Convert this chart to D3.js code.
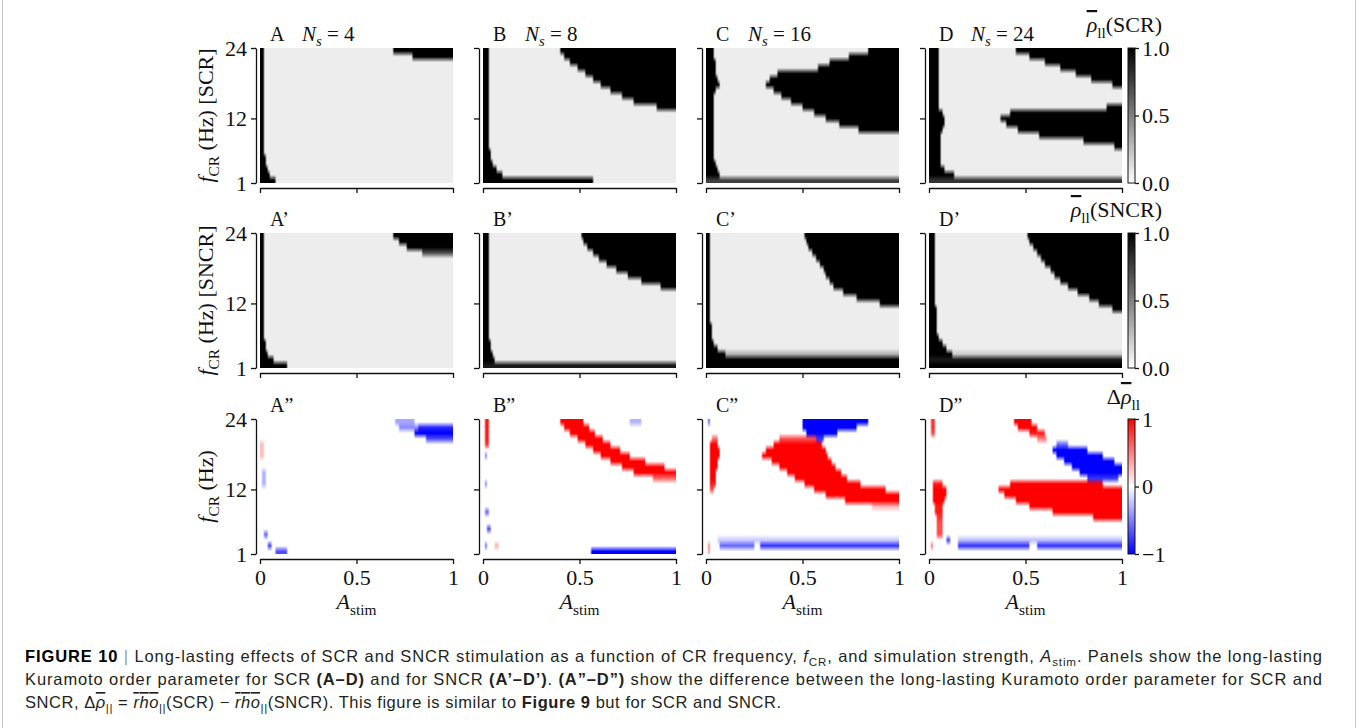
<!DOCTYPE html>
<html>
<head>
<meta charset="utf-8">
<script src="https://cdn.jsdelivr.net/npm/d3@7"></script>
<style>
  body { margin: 0; background: #fff; }
  svg { display: block; }
</style>
</head>
<body>
<svg id="fig" width="1358" height="728"></svg>
<script>
'use strict';

// ---- data -------------------------------------------------------------
// axis ticks
var aTicks = [0, 0.5, 1];
var fTicks = [1, 12, 24];
var colLetters = ['A', 'B', 'C', 'D'];
var nsValues = [4, 8, 16, 24];
var rowMarks = ['', '\u2019', '\u201D'];

// each entry: [f from, f to, [[A start, A end, value], ...]]  (value defaults to 1)
// everything not listed is the background level
var scrA = [
  [24, 24, [[0, .02], [.69, 1]]],
  [23, 23, [[0, .02], [.79, 1]]],
  [22, 6, [[0, .02]]],
  [5, 5, [[0, .025]]],
  [4, 4, [[0, .03]]],
  [3, 3, [[0, .035]]],
  [2, 2, [[0, .05]]],
  [1, 1, [[0, .08]]]
];
var scrB = [
  [24, 24, [[0, .025], [.40, 1]]],
  [23, 23, [[0, .025], [.42, 1]]],
  [22, 22, [[0, .025], [.45, 1]]],
  [21, 21, [[0, .025], [.49, 1]]],
  [20, 20, [[0, .025], [.53, 1]]],
  [19, 19, [[0, .025], [.57, 1]]],
  [18, 18, [[0, .025], [.61, 1]]],
  [17, 17, [[0, .025], [.66, 1]]],
  [16, 16, [[0, .025], [.72, 1]]],
  [15, 15, [[0, .025], [.78, 1]]],
  [14, 14, [[0, .025], [.90, 1]]],
  [13, 8, [[0, .025]]],
  [7, 7, [[0, .03]]],
  [6, 6, [[0, .035]]],
  [5, 5, [[0, .04]]],
  [4, 4, [[0, .05]]],
  [3, 3, [[0, .07]]],
  [2, 2, [[0, .10]]],
  [1, 1, [[0, .57]]]
];
var scrC = [
  [24, 24, [[0, .035], [.84, 1]]],
  [23, 23, [[0, .04], [.74, 1]]],
  [22, 22, [[0, .045], [.64, 1]]],
  [21, 21, [[0, .05], [.58, 1]]],
  [20, 20, [[0, .05], [.37, 1]]],
  [19, 19, [[0, .06], [.33, 1]]],
  [18, 18, [[0, .065], [.31, 1]]],
  [17, 17, [[0, .05], [.35, 1]]],
  [16, 16, [[0, .04], [.39, 1]]],
  [15, 15, [[0, .035], [.44, 1]]],
  [14, 14, [[0, .035], [.50, 1]]],
  [13, 13, [[0, .035], [.56, 1]]],
  [12, 12, [[0, .035], [.62, 1]]],
  [11, 11, [[0, .035], [.69, 1]]],
  [10, 10, [[0, .035], [.79, 1]]],
  [9, 5, [[0, .035]]],
  [4, 4, [[0, .045]]],
  [3, 3, [[0, .055]]],
  [2, 2, [[0, .065]]],
  [1, 1, [[0, 1, .75]]]
];
var scrD = [
  [24, 24, [[0, .045], [.45, 1]]],
  [23, 23, [[0, .045], [.52, 1]]],
  [22, 22, [[0, .045], [.60, 1]]],
  [21, 21, [[0, .045], [.68, 1]]],
  [20, 20, [[0, .045], [.76, 1]]],
  [19, 19, [[0, .045], [.84, 1]]],
  [18, 18, [[0, .045], [.95, 1]]],
  [17, 15, [[0, .045]]],
  [14, 14, [[0, .05], [.92, 1]]],
  [13, 13, [[0, .07], [.42, 1]]],
  [12, 12, [[0, .08], [.37, 1]]],
  [11, 11, [[0, .075], [.40, 1]]],
  [10, 10, [[0, .07], [.46, 1]]],
  [9, 9, [[0, .06], [.57, 1]]],
  [8, 8, [[0, .06], [.80, 1]]],
  [7, 7, [[0, .06], [.96, 1]]],
  [6, 4, [[0, .06]]],
  [3, 3, [[0, .08]]],
  [2, 2, [[0, .13]]],
  [1, 1, [[0, 1, .8]]]
];

var sncrA = [
  [24, 24, [[0, .018], [.69, 1]]],
  [23, 23, [[0, .018], [.72, 1]]],
  [22, 22, [[0, .018], [.76, 1]]],
  [21, 21, [[0, .018], [.84, 1, .7]]],
  [20, 6, [[0, .018]]],
  [5, 5, [[0, .025]]],
  [4, 4, [[0, .03]]],
  [3, 3, [[0, .04]]],
  [2, 2, [[0, .07]]],
  [1, 1, [[0, .14]]]
];
var sncrB = [
  [24, 24, [[0, .025], [.51, 1]]],
  [23, 23, [[0, .025], [.52, 1]]],
  [22, 22, [[0, .025], [.54, 1]]],
  [21, 21, [[0, .025], [.57, 1]]],
  [20, 20, [[0, .025], [.60, 1]]],
  [19, 19, [[0, .025], [.64, 1]]],
  [18, 18, [[0, .025], [.69, 1]]],
  [17, 17, [[0, .025], [.75, 1]]],
  [16, 16, [[0, .025], [.82, 1]]],
  [15, 15, [[0, .025], [.92, 1]]],
  [14, 9, [[0, .025]]],
  [8, 6, [[0, .03]]],
  [5, 5, [[0, .035]]],
  [4, 4, [[0, .04]]],
  [3, 3, [[0, .045]]],
  [2, 2, [[0, .06]]],
  [1, 1, [[0, 1, .9]]]
];
var sncrC = [
  [24, 24, [[0, .02], [.51, 1]]],
  [23, 23, [[0, .02], [.52, 1]]],
  [22, 22, [[0, .02], [.53, 1]]],
  [21, 21, [[0, .02], [.55, 1]]],
  [20, 20, [[0, .02], [.57, 1]]],
  [19, 19, [[0, .02], [.59, 1]]],
  [18, 18, [[0, .02], [.61, 1]]],
  [17, 17, [[0, .02], [.62, 1]]],
  [16, 16, [[0, .02], [.64, 1]]],
  [15, 15, [[0, .02], [.66, 1]]],
  [14, 14, [[0, .02], [.71, 1]]],
  [13, 13, [[0, .02], [.78, 1]]],
  [12, 12, [[0, .02], [.90, 1]]],
  [11, 9, [[0, .02]]],
  [8, 6, [[0, .03]]],
  [5, 5, [[0, .04]]],
  [4, 4, [[0, .06]]],
  [3, 3, [[0, .10], [.10, 1, .3]]],
  [2, 1, [[0, 1]]]
];
var sncrD = [
  [24, 24, [[0, .03], [.515, 1]]],
  [23, 23, [[0, .03], [.52, 1]]],
  [22, 22, [[0, .03], [.54, 1]]],
  [21, 21, [[0, .03], [.56, 1]]],
  [20, 20, [[0, .03], [.58, 1]]],
  [19, 19, [[0, .03], [.60, 1]]],
  [18, 18, [[0, .03], [.63, 1]]],
  [17, 17, [[0, .03], [.65, 1]]],
  [16, 16, [[0, .03], [.68, 1]]],
  [15, 15, [[0, .03], [.72, 1]]],
  [14, 14, [[0, .03], [.77, 1]]],
  [13, 13, [[0, .03], [.83, 1]]],
  [12, 12, [[0, .03], [.88, 1]]],
  [11, 11, [[0, .04], [.95, 1]]],
  [10, 7, [[0, .04]]],
  [6, 6, [[0, .05]]],
  [5, 5, [[0, .07]]],
  [4, 4, [[0, .09]]],
  [3, 3, [[0, .12], [.12, 1, .2]]],
  [2, 2, [[0, 1, .9]]],
  [1, 1, [[0, 1]]]
];

// difference SCR - SNCR (red > 0, blue < 0)
var deltaA = [
  [24, 24, [[.70, .80, -.35]]],
  [23, 23, [[.72, .82, -.45], [.82, 1, -.85]]],
  [22, 22, [[.80, 1, -1]]],
  [21, 21, [[.86, 1, -.7]]],
  [20, 18, [[.005, .02, .25]]],
  [15, 13, [[.01, .025, -.3]]],
  [4, 4, [[.02, .035, -.6]]],
  [2, 2, [[.04, .055, -.7]]],
  [1, 1, [[.08, .14, -.7]]]
];
var deltaB = [
  [24, 24, [[.01, .03, .9], [.40, .52, 1], [.76, .82, -.3]]],
  [23, 23, [[.01, .03, .9], [.42, .55, 1]]],
  [22, 22, [[.01, .03, .9], [.45, .58, 1]]],
  [21, 21, [[.01, .03, .9], [.49, .62, 1]]],
  [20, 20, [[.01, .03, .8], [.53, .66, 1]]],
  [19, 19, [[.57, .71, 1]]],
  [18, 18, [[.01, .02, -.5], [.61, .76, 1]]],
  [17, 17, [[.66, .84, 1]]],
  [16, 16, [[.72, .94, 1]]],
  [15, 15, [[.78, 1, 1]]],
  [14, 14, [[.88, 1, .6]]],
  [13, 13, [[.01, .02, -.5]]],
  [8, 8, [[.01, .03, -.6]]],
  [5, 5, [[.02, .04, -.7]]],
  [2, 2, [[.01, .02, -.6], [.06, .08, .3]]],
  [1, 1, [[.56, 1, -1]]]
];
var deltaC = [
  [24, 24, [[.01, .02, -.6], [.50, .84, -1]]],
  [23, 23, [[.50, .78, -1]]],
  [22, 22, [[.52, .68, -1]]],
  [21, 21, [[.03, .06, .6], [.38, .57, .7], [.57, .61, -.8]]],
  [20, 20, [[.02, .06, 1], [.35, .60, 1]]],
  [19, 19, [[.02, .065, 1], [.31, .62, 1]]],
  [18, 18, [[.02, .065, 1], [.29, .63, 1]]],
  [17, 17, [[.02, .06, 1], [.34, .65, 1]]],
  [16, 16, [[.02, .055, 1], [.38, .67, 1]]],
  [15, 15, [[.02, .05, 1], [.42, .70, 1]]],
  [14, 14, [[.02, .05, 1], [.46, .73, 1]]],
  [13, 13, [[.02, .045, .9], [.51, .80, 1]]],
  [12, 12, [[.02, .04, .7], [.56, .93, 1]]],
  [11, 11, [[.62, 1, 1]]],
  [10, 10, [[.72, 1, 1]]],
  [9, 9, [[.86, 1, .3]]],
  [3, 3, [[.06, 1, -.2]]],
  [2, 2, [[.01, .02, .5], [.07, .25, -.6], [.28, 1, -.8]]],
  [1, 1, [[.01, .02, .4]]]
];
var deltaD = [
  [24, 24, [[.01, .025, .8], [.44, .53, 1]]],
  [23, 23, [[.01, .025, .8], [.46, .56, 1]]],
  [22, 22, [[.01, .025, .7], [.52, .60, .9]]],
  [21, 21, [[.56, .61, .5]]],
  [20, 20, [[.66, .72, -.6]]],
  [19, 19, [[.64, .82, -1]]],
  [18, 18, [[.66, .90, -1]]],
  [17, 17, [[.70, .96, -1]]],
  [16, 16, [[.74, 1, -1]]],
  [15, 15, [[.78, 1, -1]]],
  [14, 14, [[.82, .98, -.8]]],
  [13, 13, [[.02, .07, .9], [.42, .90, 1]]],
  [12, 12, [[.02, .09, 1], [.36, 1, 1]]],
  [11, 11, [[.02, .09, 1], [.39, 1, 1]]],
  [10, 10, [[.02, .08, 1], [.45, 1, 1]]],
  [9, 9, [[.03, .07, .9], [.52, 1, 1]]],
  [8, 8, [[.03, .07, .9], [.64, 1, 1]]],
  [7, 7, [[.04, .07, .8], [.85, 1, 1]]],
  [6, 4, [[.04, .07, .7]]],
  [3, 3, [[.09, .11, -.7], [.15, 1, -.25]]],
  [2, 2, [[.01, .02, .6], [.15, .52, -.8], [.56, 1, -.8]]]
];

var rows = [
  { panels: [scrA, scrB, scrC, scrD], bg: 0.07, cmap: 'gray', tag: 'SCR' },
  { panels: [sncrA, sncrB, sncrC, sncrD], bg: 0.07, cmap: 'gray', tag: 'SNCR' },
  { panels: [deltaA, deltaB, deltaC, deltaD], bg: 0, cmap: 'bwr', tag: null }
];

// ---- layout -----------------------------------------------------------
var panelLeft = [260, 483, 706, 929];
var rowTop = [48, 233, 419];
var W = 193, H = 135;
var nA = 100, nF = 24;
var serif = '"Liberation Serif", "DejaVu Serif", serif';
var sans = '"Liberation Sans", Arial, sans-serif';
var ink = '#111';

var svg = d3.select('#fig');

// thin page edges
svg.append('line').attr('x1', 2.5).attr('x2', 2.5).attr('y1', 0).attr('y2', 728)
  .attr('stroke', '#c8c8c8').attr('stroke-width', 1);
svg.append('line').attr('x1', 1355.5).attr('x2', 1355.5).attr('y1', 0).attr('y2', 728)
  .attr('stroke', '#c8c8c8').attr('stroke-width', 1);

var x = d3.scaleLinear().domain([0, 1]).range([0, W]);
var y = d3.scaleLinear().domain([1, 24]).range([H, 0]);

function colour(cmap, v) {
  if (cmap === 'gray') {
    var g = Math.round(255 * (1 - v));
    return [g, g, g];
  }
  if (v >= 0) return [255, Math.round(255 * (1 - v)), Math.round(255 * (1 - v))];
  return [Math.round(255 * (1 + v)), Math.round(255 * (1 + v)), 255];
}

function cellValue(spec, f, a, bg) {
  for (var k = 0; k < spec.length; k++) {
    var e = spec[k];
    if (f <= e[0] && f >= e[1]) {
      for (var j = 0; j < e[2].length; j++) {
        var iv = e[2][j];
        if (a >= iv[0] && a <= iv[1]) return iv.length > 2 ? iv[2] : 1;
      }
    }
  }
  return bg;
}

// grid -> small canvas -> smoothed (bilinear) canvas at panel size
function heatImage(spec, bg, cmap) {
  var cv = document.createElement('canvas');
  cv.width = nA; cv.height = nF;
  var ctx = cv.getContext('2d');
  var img = ctx.createImageData(nA, nF);
  for (var r = 0; r < nF; r++) {
    var f = 24 - r;
    for (var c = 0; c < nA; c++) {
      var a = (c + 0.5) / nA;
      var rgb = colour(cmap, cellValue(spec, f, a, bg));
      var p = (r * nA + c) * 4;
      img.data[p] = rgb[0]; img.data[p + 1] = rgb[1]; img.data[p + 2] = rgb[2]; img.data[p + 3] = 255;
    }
  }
  ctx.putImageData(img, 0, 0);
  var big = document.createElement('canvas');
  big.width = W * 2; big.height = H * 2;
  var bctx = big.getContext('2d');
  bctx.imageSmoothingEnabled = true;
  bctx.drawImage(cv, 0, 0, big.width, big.height);
  return big.toDataURL();
}

// text with italic / subscript pieces
function rich(sel, parts, size) {
  var shifted = 0;
  parts.forEach(function (p) {
    var t = sel.append('tspan').text(p.t);
    if (p.i) t.attr('font-style', 'italic');
    if (p.b) t.attr('font-weight', 'bold');
    if (p.fill) t.attr('fill', p.fill);
    if (p.over) t.attr('text-decoration', 'overline');
    if (p.sub) {
      t.attr('font-size', size * 0.7);
      if (!shifted) { t.attr('dy', size * 0.25); shifted = 1; }
    } else if (shifted) {
      t.attr('dy', -size * 0.25); shifted = 0;
    }
  });
  return sel;
}

function styleAxis(g, size) {
  g.attr('font-family', serif).attr('font-size', size);
  g.select('.domain').attr('stroke', ink).attr('stroke-width', 1.3);
  g.selectAll('.tick line').attr('stroke', ink).attr('stroke-width', 1.3);
  g.selectAll('.tick text').attr('fill', ink);
}

// ---- panels -----------------------------------------------------------
rows.forEach(function (row, ri) {
  row.panels.forEach(function (spec, ci) {
    var g = svg.append('g').attr('transform', 'translate(' + panelLeft[ci] + ',' + rowTop[ri] + ')');

    g.append('image')
      .attr('href', heatImage(spec, row.bg, row.cmap))
      .attr('x', x(0)).attr('y', y(24))
      .attr('width', x(1) - x(0)).attr('height', y(1) - y(24))
      .attr('preserveAspectRatio', 'none');

    var yAxis = g.append('g').attr('transform', 'translate(-4,0)')
      .call(d3.axisLeft(y).tickValues(fTicks).tickSize(5).tickSizeOuter(0).tickPadding(4)
        .tickFormat(ci === 0 ? d3.format('d') : function () { return ''; }));
    styleAxis(yAxis, 22);

    var xAxis = g.append('g').attr('transform', 'translate(0,' + (H + 5) + ')')
      .call(d3.axisBottom(x).tickValues(aTicks).tickSize(5).tickSizeOuter(0).tickPadding(5)
        .tickFormat(ri === 2 ? function (d) { return String(d); } : function () { return ''; }));
    styleAxis(xAxis, 22);

    // panel title
    g.append('text').attr('x', 10).attr('y', -7)
      .attr('font-family', serif).attr('font-size', 20).attr('fill', ink)
      .text(colLetters[ci] + rowMarks[ri]);
    if (ri === 0) {
      rich(g.append('text').attr('x', 42).attr('y', -7)
        .attr('font-family', serif).attr('font-size', 21).attr('fill', ink),
        [{ t: 'N', i: 1 }, { t: 's', i: 1, sub: 1 }, { t: ' = ' + nsValues[ci] }], 21);
    }

    if (ri === 2) {
      rich(g.append('text').attr('x', W / 2).attr('y', H + 55)
        .attr('text-anchor', 'middle').attr('font-family', serif).attr('font-size', 22).attr('fill', ink),
        [{ t: 'A', i: 1 }, { t: 'stim', sub: 1 }], 22);
    }
  });

  // y label
  var lab = svg.append('text')
    .attr('transform', 'translate(' + 213 + ',' + (rowTop[ri] + H / 2) + ') rotate(-90)')
    .attr('text-anchor', 'middle').attr('font-family', serif).attr('font-size', 22).attr('fill', ink);
  rich(lab, [{ t: 'f', i: 1 }, { t: 'CR', sub: 1 }, { t: ' (Hz)' + (row.tag ? ' [' + row.tag + ']' : '') }], 22);

  // colour bar
  var cbX = 1128, cbW = 7;
  var grad = svg.append('defs').append('linearGradient')
    .attr('id', 'cb' + ri).attr('x1', 0).attr('y1', 1).attr('x2', 0).attr('y2', 0);
  var stops = row.cmap === 'gray' ? [0, 1] : [-1, 0, 1];
  stops.forEach(function (v, k) {
    var rgb = colour(row.cmap, v);
    grad.append('stop').attr('offset', k / (stops.length - 1))
      .attr('stop-color', 'rgb(' + rgb.join(',') + ')');
  });
  var cbScale = d3.scaleLinear()
    .domain(row.cmap === 'gray' ? [0, 1] : [-1, 1])
    .range([rowTop[ri] + H, rowTop[ri]]);
  svg.append('rect').attr('x', cbX).attr('y', rowTop[ri]).attr('width', cbW).attr('height', H)
    .attr('fill', 'url(#cb' + ri + ')').attr('stroke', ink).attr('stroke-width', 1);
  var cbAxis = svg.append('g').attr('transform', 'translate(' + (cbX + cbW) + ',0)')
    .call(d3.axisRight(cbScale)
      .tickValues(row.cmap === 'gray' ? [0, 0.5, 1] : [-1, 0, 1])
      .tickSize(4).tickSizeOuter(0).tickPadding(3)
      .tickFormat(row.cmap === 'gray' ? d3.format('.1f') : function (d) { return d < 0 ? '\u2212' + (-d) : String(d); }));
  styleAxis(cbAxis, 22);
  cbAxis.select('.domain').remove();

  var cbt = svg.append('text').attr('text-anchor', 'end')
    .attr('font-family', serif).attr('font-size', 22).attr('fill', ink);
  if (row.cmap === 'gray') {
    cbt.attr('x', 1162).attr('y', rowTop[ri] - 16);
    rich(cbt, [{ t: '\u03C1', i: 1, over: 1 }, { t: 'll', sub: 1 }, { t: '(' + row.tag + ')' }], 22);
  } else {
    cbt.attr('x', 1140).attr('y', rowTop[ri] - 15);
    rich(cbt, [{ t: '\u0394' }, { t: '\u03C1', i: 1, over: 1 }, { t: 'll', sub: 1 }], 22);
  }
});

// ---- caption ----------------------------------------------------------
var capSize = 16.5;
var capLines = [
  [{ t: 'FIGURE 10', b: 1, fill: '#000' }, { t: ' | ', fill: '#999' },
   { t: 'Long-lasting effects of SCR and SNCR stimulation as a function of CR frequency, ' },
   { t: 'f', i: 1 }, { t: 'CR', sub: 1 }, { t: ', and simulation strength, ' },
   { t: 'A', i: 1 }, { t: 'stim', sub: 1 }, { t: '. Panels show the long-lasting' }],
  [{ t: 'Kuramoto order parameter for SCR ' }, { t: '(A\u2013D)', b: 1 }, { t: ' and for SNCR ' },
   { t: '(A\u2019\u2013D\u2019)', b: 1 }, { t: '. ' }, { t: '(A\u201D\u2013D\u201D)', b: 1 },
   { t: ' show the difference between the long-lasting Kuramoto order parameter for SCR and' }],
  [{ t: 'SNCR, \u0394' }, { t: '\u03C1', i: 1, over: 1 }, { t: '||', sub: 1 }, { t: ' = ' },
   { t: 'rho', i: 1, over: 1 }, { t: '||', sub: 1 }, { t: '(SCR) \u2212 ' },
   { t: 'rho', i: 1, over: 1 }, { t: '||', sub: 1 },
   { t: '(SNCR). This figure is similar to ' }, { t: 'Figure 9', b: 1 }, { t: ' but for SCR and SNCR.' }]
];
var capBase = [662, 685, 708];
var capWidth = [1297, 1297, 756];
capLines.forEach(function (parts, k) {
  var t = svg.append('text').attr('x', 25).attr('y', capBase[k])
    .attr('font-family', sans).attr('font-size', capSize).attr('fill', '#231f20')
    .attr('textLength', capWidth[k]).attr('lengthAdjust', 'spacing');
  rich(t, parts, capSize);
});
</script>
</body>
</html>
